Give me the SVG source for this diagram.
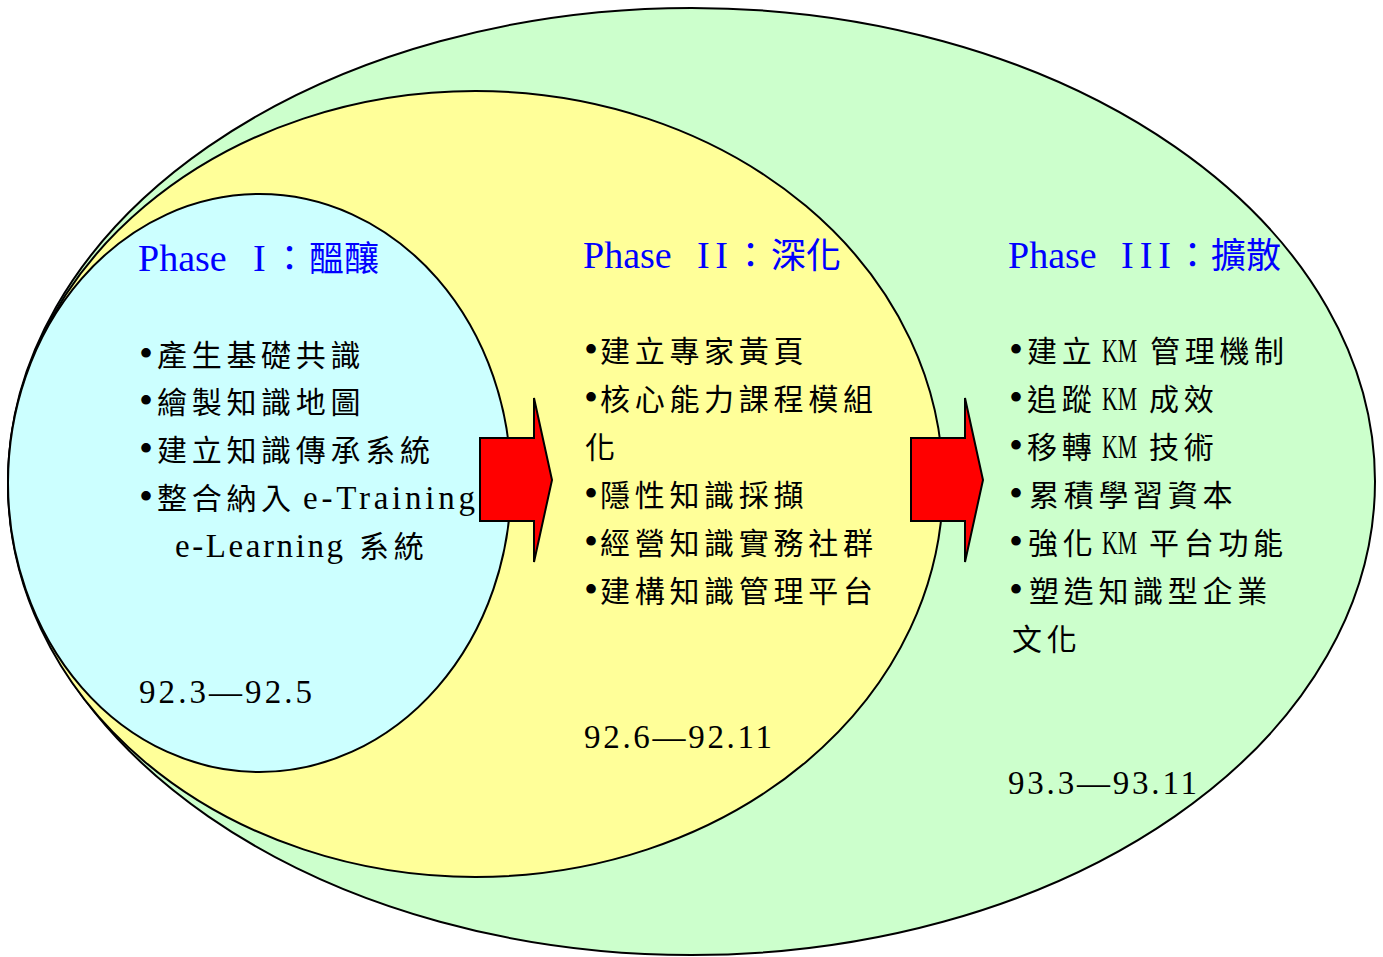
<svg xmlns="http://www.w3.org/2000/svg" width="1383" height="957" viewBox="0 0 1383 957">
<style>
.ell{stroke:#000;stroke-width:2}
.arrow{fill:#FF0000;stroke:#000;stroke-width:2;stroke-linejoin:miter}
.t{font-family:"Liberation Serif","Noto Sans CJK TC",serif;fill:#000}
.cj{font-family:"Noto Sans CJK TC","Liberation Serif",sans-serif;font-size:30px;letter-spacing:4.7px}
.lat{font-family:"Liberation Serif",serif;font-size:33px}
.bul{font-family:"Liberation Serif",serif;font-size:40px}
.ti{fill:#0000FF}
.tl{font-family:"Liberation Serif",serif;font-size:38px}
.tc{font-family:"Noto Sans CJK TC",sans-serif;font-size:35px}
</style>
<rect width="1383" height="957" fill="#FFFFFF"/>
<g id="phase3">
<ellipse class="ell" cx="691.5" cy="481.5" rx="683.5" ry="473.5" fill="#CCFFCC"/>
</g>
<g id="phase2">
<ellipse class="ell" cx="475.5" cy="484" rx="467.5" ry="393" fill="#FFFF99"/>
</g>
<g id="phase1">
<ellipse class="ell" cx="259.5" cy="483" rx="251.5" ry="289" fill="#CCFFFF"/>
</g>
<g id="connectors">
<polygon class="arrow" points="480,438 534,438 534,398 552,480 534,562 534,521 480,521"/>
<polygon class="arrow" points="911,438 965,438 965,398 983,480 965,562 965,521 911,521"/>
</g>
<g id="phase1-text" class="t">
<text class="ti" y="271"><tspan class="tl" x="138">Phase</tspan><tspan class="tl" x="253">I</tspan><tspan class="tc" x="272">：</tspan><tspan class="tc" x="309">醞釀</tspan></text>
<text class="bul" x="139" y="367">•</text>
<text class="cj" x="157" y="366">產生基礎共識</text>
<text class="bul" x="139" y="414">•</text>
<text class="cj" x="157" y="413">繪製知識地圖</text>
<text class="bul" x="139" y="462">•</text>
<text class="cj" x="157" y="461">建立知識傳承系統</text>
<text class="bul" x="139" y="510">•</text>
<text class="cj" x="157" y="509">整合納入</text>
<text class="lat" x="303" y="509" textLength="172">e-Training</text>
<text class="lat" x="175" y="557" textLength="168">e-Learning</text>
<text class="cj" x="359" y="557">系統</text>
<text class="lat" x="139" y="703" textLength="173">92.3—92.5</text>
</g>
<g id="phase2-text" class="t">
<text class="ti" y="268"><tspan class="tl" x="583">Phase</tspan><tspan class="tl" x="697" textLength="31">II</tspan><tspan class="tc" x="733">：</tspan><tspan class="tc" x="771">深化</tspan></text>
<text class="bul" x="584" y="363">•</text>
<text class="cj" x="600" y="362">建立專家黃頁</text>
<text class="bul" x="584" y="411">•</text>
<text class="cj" x="600" y="410">核心能力課程模組</text>
<text class="cj" x="585" y="458">化</text>
<text class="bul" x="584" y="507">•</text>
<text class="cj" x="600" y="506">隱性知識採擷</text>
<text class="bul" x="584" y="555">•</text>
<text class="cj" x="600" y="554">經營知識實務社群</text>
<text class="bul" x="584" y="603">•</text>
<text class="cj" x="600" y="602">建構知識管理平台</text>
<text class="lat" x="584" y="748" textLength="188">92.6—92.11</text>
</g>
<g id="phase3-text" class="t">
<text class="ti" y="268"><tspan class="tl" x="1008">Phase</tspan><tspan class="tl" x="1121" textLength="50">III</tspan><tspan class="tc" x="1175">：</tspan><tspan class="tc" x="1211">擴散</tspan></text>
<text class="bul" x="1009" y="363">•</text>
<text class="cj" x="1027" y="362">建立</text>
<text class="lat" transform="translate(1102,362) scale(0.66,1)">KM</text>
<text class="cj" x="1150" y="362">管理機制</text>
<text class="bul" x="1009" y="411">•</text>
<text class="cj" x="1027" y="410">追蹤</text>
<text class="lat" transform="translate(1102,410) scale(0.66,1)">KM</text>
<text class="cj" x="1149" y="410">成效</text>
<text class="bul" x="1009" y="459">•</text>
<text class="cj" x="1027" y="458">移轉</text>
<text class="lat" transform="translate(1102,458) scale(0.66,1)">KM</text>
<text class="cj" x="1149" y="458">技術</text>
<text class="bul" x="1009" y="507">•</text>
<text class="cj" x="1029" y="506">累積學習資本</text>
<text class="bul" x="1009" y="555">•</text>
<text class="cj" x="1028" y="554">強化</text>
<text class="lat" transform="translate(1102,554) scale(0.66,1)">KM</text>
<text class="cj" x="1149" y="554">平台功能</text>
<text class="bul" x="1009" y="603">•</text>
<text class="cj" x="1029" y="602">塑造知識型企業</text>
<text class="cj" x="1012" y="650">文化</text>
<text class="lat" x="1008" y="794" textLength="189">93.3—93.11</text>
</g>
</svg>
